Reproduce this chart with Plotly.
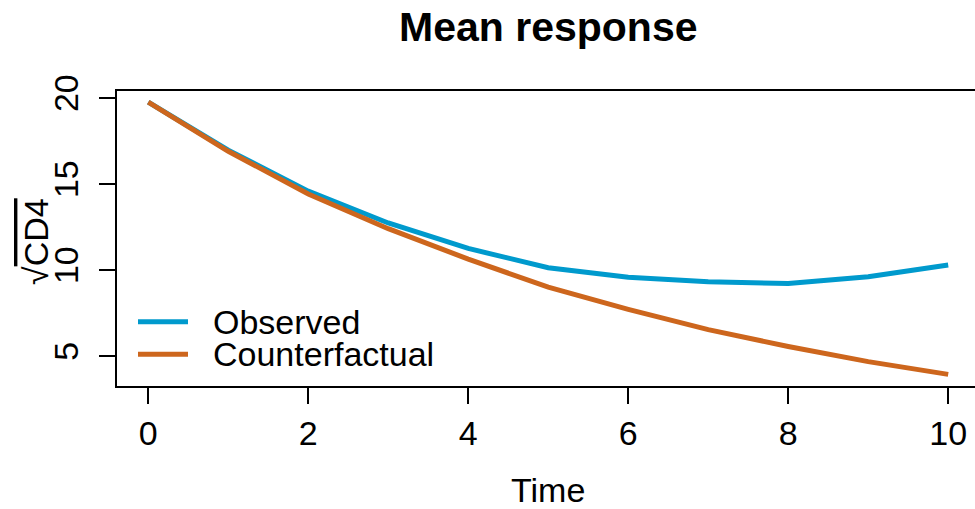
import plotly.graph_objects as go

time = [0, 1, 2, 3, 4, 5, 6, 7, 8, 9, 10]
observed = [19.78, 16.98, 14.6, 12.75, 11.27, 10.15, 9.59, 9.33, 9.23, 9.63, 10.31]
counterfactual = [19.78, 16.92, 14.44, 12.42, 10.65, 9.02, 7.73, 6.55, 5.57, 4.69, 3.95]
series_names = ["Observed", "Counterfactual"]
series_colors = ["#009ACD", "#CD661D"]
x_ticks = [0, 2, 4, 6, 8, 10]
y_ticks = [5, 10, 15, 20]

W, H = 975, 509
L, R, T, B = 117, 0, 91, 123
FONT = "Liberation Sans, Arial, sans-serif"
FS = 34

fig = go.Figure()
for name, ys, col in zip(series_names, [observed, counterfactual], series_colors):
    fig.add_trace(go.Scatter(x=time, y=ys, mode="lines", name=name,
                             line=dict(color=col, width=5), showlegend=False))

fig.update_layout(
    width=W, height=H,
    margin=dict(l=L, r=R, t=T, b=B),
    paper_bgcolor="white", plot_bgcolor="white",
    font=dict(family=FONT, size=FS, color="black"),
    xaxis=dict(range=[-0.391, 10.335], tickvals=x_ticks, ticktext=[str(v) for v in x_ticks],
               showgrid=False, zeroline=False, showline=True, mirror=True,
               linecolor="black", linewidth=1.5, ticks="outside", ticklen=16,
               tickcolor="black", tickwidth=1.5, ticklabelstandoff=0),
    yaxis=dict(range=[3.273, 20.424], tickvals=y_ticks, ticktext=[str(v) for v in y_ticks],
               showgrid=False, zeroline=False, showline=True, mirror=False,
               linecolor="black", linewidth=1.5, ticks="outside", ticklen=16,
               tickcolor="black", tickwidth=1.5, tickangle=-90, ticklabelstandoff=8),
)

def px2paper(px, py):
    return (px - L) / (W - L - R), (H - B - py) / (H - T - B)

annotations = []
# title
tx, ty = px2paper(548, 26.7)
annotations.append(dict(text="<b>Mean response</b>", x=tx, y=ty, xref="paper", yref="paper",
                        xanchor="center", yanchor="middle", showarrow=False,
                        font=dict(size=41, family=FONT)))
# x-axis title
ax, ay = px2paper(548, 490)
annotations.append(dict(text="Time", x=ax, y=ay, xref="paper", yref="paper",
                        xanchor="center", yanchor="middle", showarrow=False,
                        font=dict(size=FS, family=FONT)))
# y-axis title
yx, yy = px2paper(36, 242)
annotations.append(dict(text="√<span style='text-decoration:overline'>CD4</span>",
                        x=yx, y=yy, xref="paper", yref="paper", textangle=-90,
                        xanchor="center", yanchor="middle", showarrow=False,
                        font=dict(size=FS, family=FONT)))

# legend (drawn manually)
shapes = []
legend_rows = [321.7, 354.3]
for name, col, py in zip(series_names, series_colors, legend_rows):
    x0, y0 = px2paper(138, py)
    x1, _ = px2paper(188, py)
    shapes.append(dict(type="line", xref="paper", yref="paper", x0=x0, x1=x1, y0=y0, y1=y0,
                       line=dict(color=col, width=5)))
    lx, ly = px2paper(211, py)
    annotations.append(dict(text=name, x=lx, y=ly, xref="paper", yref="paper",
                            xanchor="left", yanchor="middle", showarrow=False,
                            font=dict(size=FS, family=FONT)))

fig.update_layout(annotations=annotations, shapes=shapes)
fig.write_html("out.html")
